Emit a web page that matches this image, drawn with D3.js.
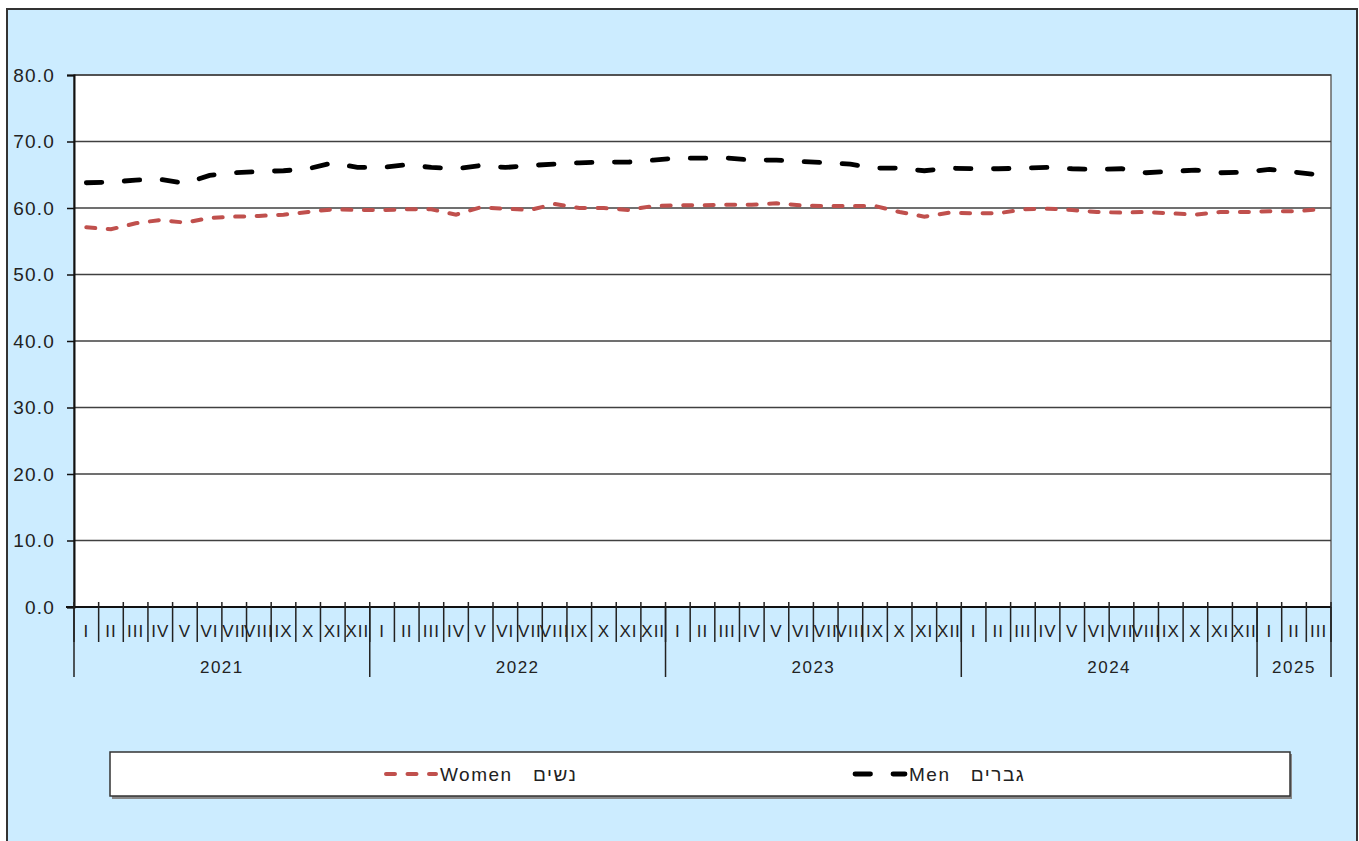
<!DOCTYPE html>
<html>
<head>
<meta charset="utf-8">
<script src="https://cdn.jsdelivr.net/npm/d3@7"></script>
<style>
  body { margin: 0; background: #fff; }
  svg text { font-family: "Liberation Sans", Arial, sans-serif; fill: #222; }
</style>
</head>
<body>
<div id="chart"></div>
<script>
// Month tick labels (Roman numerals) and year groups
var monthLabels = ["I","II","III","IV","V","VI","VII","VIII","IX","X","XI","XII"];
var years = ["2021", "2022", "2023", "2024", "2025"];
var monthsPerYear = [12, 12, 12, 12, 3];

// Series values, one per month from 2021 I to 2025 III
var women = [57.1, 56.8, 57.7, 58.2, 57.8, 58.5, 58.7, 58.8, 59.0, 59.4, 59.8, 59.7,
             59.7, 59.8, 59.8, 59.0, 60.1, 59.9, 59.7, 60.6, 60.0, 60.0, 59.7, 60.3,
             60.4, 60.4, 60.5, 60.5, 60.7, 60.4, 60.3, 60.3, 60.3, 59.4, 58.7, 59.3,
             59.2, 59.2, 59.8, 59.9, 59.7, 59.4, 59.3, 59.4, 59.2, 59.0, 59.4, 59.4,
             59.5, 59.5, 59.8];
var men = [63.8, 63.9, 64.2, 64.3, 63.7, 64.9, 65.3, 65.5, 65.6, 65.9, 66.8, 66.1,
           66.1, 66.5, 66.1, 65.9, 66.4, 66.1, 66.4, 66.6, 66.8, 66.9, 66.9, 67.2,
           67.5, 67.5, 67.5, 67.2, 67.2, 67.0, 66.8, 66.6, 66.0, 66.0, 65.6, 66.0,
           65.9, 65.9, 66.0, 66.1, 65.9, 65.8, 65.9, 65.3, 65.5, 65.7, 65.3, 65.4,
           65.8, 65.4, 65.0];
var yTicks = [0, 10, 20, 30, 40, 50, 60, 70, 80];
var legendLabels = ["Women   נשים", "Men   גברים"];

// Build the category list (one entry per month)
var categories = [];
years.forEach(function (yr, yi) {
  for (var m = 0; m < monthsPerYear[yi]; m++) categories.push(yr + "-" + m);
});

var width = 1359, height = 841;
var plot = { left: 74, top: 75, right: 1331, bottom: 607 };

var svg = d3.select("#chart").append("svg")
  .attr("width", width)
  .attr("height", height);

// Chart background and outer border
svg.append("rect")
  .attr("x", 7).attr("y", 9)
  .attr("width", 1350).attr("height", 845)
  .attr("fill", "#CCECFF")
  .attr("stroke", "#333")
  .attr("stroke-width", 2);

var x = d3.scaleBand()
  .domain(categories)
  .range([plot.left, plot.right]);

var y = d3.scaleLinear()
  .domain([0, 80])
  .range([plot.bottom, plot.top]);

// Plot area
svg.append("rect")
  .attr("x", plot.left).attr("y", plot.top)
  .attr("width", plot.right - plot.left)
  .attr("height", plot.bottom - plot.top)
  .attr("fill", "#fff")
  .attr("stroke", "#666")
  .attr("stroke-width", 1.5);

// Gridlines
svg.append("g")
  .selectAll("line")
  .data(yTicks.filter(function (d) { return d > 0; }))
  .join("line")
  .attr("x1", plot.left).attr("x2", plot.right)
  .attr("y1", function (d) { return y(d); })
  .attr("y2", function (d) { return y(d); })
  .attr("stroke", "#404040")
  .attr("stroke-width", 1.5);

// Y axis
var yAxis = svg.append("g")
  .attr("transform", "translate(" + plot.left + ",0)")
  .call(d3.axisLeft(y).tickValues(yTicks).tickSize(7).tickPadding(12)
    .tickFormat(d3.format(".1f")));
yAxis.select(".domain").attr("stroke", "#111").attr("stroke-width", 2);
yAxis.selectAll(".tick line").attr("stroke", "#111").attr("stroke-width", 1.5);
yAxis.selectAll("text")
  .attr("font-size", 19)
  .attr("letter-spacing", 1.2)
  .attr("fill", "#222");

// X axis: month boundaries
var xAxis = svg.append("g");
xAxis.append("line")
  .attr("x1", plot.left - 8).attr("x2", plot.right)
  .attr("y1", plot.bottom).attr("y2", plot.bottom)
  .attr("stroke", "#111").attr("stroke-width", 2);

var boundaries = categories.map(function (c) { return x(c); }).concat([plot.right]);
xAxis.selectAll(".mtick")
  .data(boundaries)
  .join("line")
  .attr("class", "mtick")
  .attr("x1", function (d) { return d; })
  .attr("x2", function (d) { return d; })
  .attr("y1", plot.bottom - 5)
  .attr("y2", plot.bottom + 35)
  .attr("stroke", "#222")
  .attr("stroke-width", 1.5);

xAxis.selectAll(".mlabel")
  .data(categories)
  .join("text")
  .attr("class", "mlabel")
  .attr("x", function (c) { return x(c) + x.bandwidth() / 2; })
  .attr("y", plot.bottom + 30)
  .attr("text-anchor", "middle")
  .attr("font-size", 17)
  .attr("letter-spacing", 1)
  .text(function (c) { return monthLabels[+c.split("-")[1]]; });

// Year groups
var yearStart = [];
var acc = 0;
monthsPerYear.forEach(function (n) { yearStart.push(acc); acc += n; });

xAxis.selectAll(".ytick")
  .data(yearStart.concat([categories.length]))
  .join("line")
  .attr("class", "ytick")
  .attr("x1", function (i) { return i < categories.length ? x(categories[i]) : plot.right; })
  .attr("x2", function (i) { return i < categories.length ? x(categories[i]) : plot.right; })
  .attr("y1", plot.bottom)
  .attr("y2", plot.bottom + 70)
  .attr("stroke", "#222")
  .attr("stroke-width", 1.5);

xAxis.selectAll(".ylabel")
  .data(years)
  .join("text")
  .attr("class", "ylabel")
  .attr("x", function (yr, i) {
    var a = x(categories[yearStart[i]]);
    var b = x(categories[yearStart[i] + monthsPerYear[i] - 1]) + x.bandwidth();
    return (a + b) / 2;
  })
  .attr("y", plot.bottom + 66)
  .attr("text-anchor", "middle")
  .attr("font-size", 17)
  .attr("letter-spacing", 1.5)
  .text(function (d) { return d; });

// Lines
var line = d3.line()
  .x(function (d, i) { return x(categories[i]) + x.bandwidth() / 2; })
  .y(function (d) { return y(d); });

svg.append("path")
  .datum(women)
  .attr("fill", "none")
  .attr("stroke", "#C0504D")
  .attr("stroke-width", 4)
  .attr("stroke-linecap", "round")
  .attr("stroke-dasharray", "9,12.5")
  .attr("d", line);

svg.append("path")
  .datum(men)
  .attr("fill", "none")
  .attr("stroke", "#000")
  .attr("stroke-width", 4.8)
  .attr("stroke-linecap", "round")
  .attr("stroke-dasharray", "15.5,22.5")
  .attr("d", line);

// Legend
var legend = svg.append("g");
legend.append("rect")
  .attr("x", 112).attr("y", 754)
  .attr("width", 1180).attr("height", 45)
  .attr("fill", "#888");
legend.append("rect")
  .attr("x", 110).attr("y", 752)
  .attr("width", 1180).attr("height", 44)
  .attr("fill", "#fff")
  .attr("stroke", "#333")
  .attr("stroke-width", 1.5);

var legendItems = [
  { x: 386, label: legendLabels[0], color: "#C0504D", w: 4, dash: "9,12.5" },
  { x: 855, label: legendLabels[1], color: "#000", w: 4.8, dash: "15.5,22.5" }
];
legendItems.forEach(function (it) {
  legend.append("line")
    .attr("x1", it.x).attr("x2", it.x + 50)
    .attr("y1", 774).attr("y2", 774)
    .attr("stroke", it.color)
    .attr("stroke-width", it.w)
    .attr("stroke-linecap", "round")
    .attr("stroke-dasharray", it.dash);
  legend.append("text")
    .attr("x", it.x + 54)
    .attr("y", 781)
    .attr("font-size", 19)
    .attr("letter-spacing", 1.5)
    .style("white-space", "pre")
    .text(it.label);
});
</script>
</body>
</html>
